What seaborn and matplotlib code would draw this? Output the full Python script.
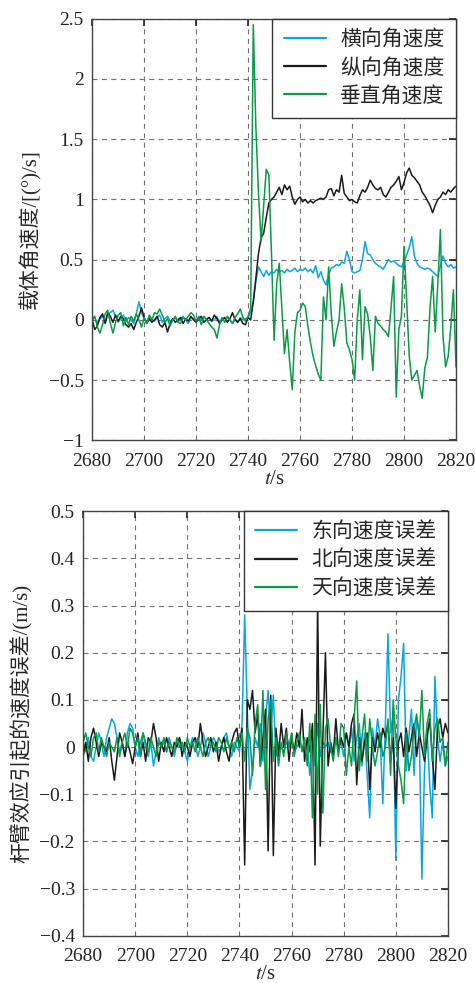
import numpy as np
import matplotlib
matplotlib.use("Agg")
import matplotlib.pyplot as plt
import seaborn as sns
from matplotlib.ticker import FuncFormatter

# time axis, 1 s sampling
t = np.arange(2680, 2821, 1)

# top panel: body angular rate [deg/s]
roll_rate = [
    0.00, 0.02, -0.03, 0.01, 0.03, -0.02, 0.04, 0.06, 0.08, 0.03,
    -0.02, 0.01, 0.04, -0.01, 0.02, 0.00, -0.03, 0.05, 0.15, 0.06,
    0.01, -0.02, 0.03, 0.00, -0.01, 0.02, 0.04, -0.02, 0.01, 0.03,
    -0.01, 0.00, 0.02, -0.02, 0.01, 0.03, 0.00, -0.03, 0.02, 0.01,
    -0.01, 0.03, 0.00, -0.02, 0.01, 0.02, -0.01, 0.00, 0.03, -0.02,
    0.01, -0.01, 0.02, 0.00, -0.03, 0.01, -0.02, 0.02, 0.00, 0.01,
    0.02, 0.06, 0.15, 0.32, 0.44, 0.40, 0.36, 0.41, 0.37, 0.40,
    0.39, 0.42, 0.40, 0.41, 0.39, 0.42, 0.40, 0.41, 0.43, 0.40,
    0.42, 0.41, 0.43, 0.40, 0.42, 0.39, 0.45, 0.35, 0.40, 0.33,
    0.29, 0.38, 0.43, 0.44, 0.46, 0.45, 0.48, 0.47, 0.57, 0.50,
    0.40, 0.39, 0.40, 0.41, 0.50, 0.65, 0.55, 0.54, 0.50, 0.47,
    0.45, 0.44, 0.42, 0.46, 0.50, 0.48, 0.49, 0.47, 0.45, 0.44,
    0.48, 0.54, 0.60, 0.69, 0.53, 0.47, 0.44, 0.43, 0.42, 0.43,
    0.42, 0.40, 0.38, 0.36, 0.45, 0.53, 0.47, 0.44, 0.46, 0.43,
    0.44,
]
pitch_rate = [
    0.00, -0.08, -0.05, 0.02, 0.05, -0.03, 0.06, 0.03, -0.02, 0.04,
    -0.01, 0.03, 0.01, -0.04, -0.06, -0.03, -0.08, -0.02, 0.03, 0.10,
    0.02, -0.03, 0.01, -0.02, 0.00, 0.03, -0.04, -0.06, -0.02, -0.10,
    -0.03, 0.01, -0.02, 0.00, 0.02, -0.03, 0.01, -0.01, 0.03, 0.00,
    -0.02, 0.01, 0.03, -0.02, 0.00, 0.02, -0.01, 0.04, 0.01, -0.03,
    0.00, 0.02, -0.02, 0.01, 0.06, 0.00, -0.02, 0.01, -0.03, -0.04,
    0.02, 0.00, 0.15, 0.35, 0.55, 0.68, 0.72, 0.85, 0.97, 1.00,
    1.02, 1.06, 1.10, 1.04, 1.12, 1.08, 1.11, 1.02, 0.96, 1.00,
    1.02, 0.98, 1.00, 0.97, 0.99, 0.97, 0.99, 1.00, 1.01, 1.00,
    1.02, 1.08, 1.09, 1.03, 1.08, 1.06, 1.20, 1.05, 1.02, 0.99,
    1.00, 0.98, 0.97, 1.03, 1.08, 1.06, 1.10, 1.16, 1.12, 1.09,
    1.08, 1.10, 1.04, 1.02, 1.06, 1.10, 1.12, 1.15, 1.19, 1.08,
    1.14, 1.22, 1.26, 1.20, 1.18, 1.15, 1.12, 1.06, 1.03, 0.99,
    0.95, 0.89, 0.95, 1.00, 1.02, 1.06, 1.04, 1.08, 1.06, 1.09,
    1.11,
]
yaw_rate = [
    0.00, 0.03, -0.06, -0.11, -0.04, 0.05, 0.08, -0.03, -0.11, -0.02,
    0.04, 0.06, -0.05, 0.02, -0.04, 0.03, -0.01, 0.05, 0.00, -0.06,
    0.02, -0.03, 0.04, 0.00, 0.06, 0.05, 0.09, 0.04, -0.02, 0.01,
    -0.05, 0.00, 0.03, -0.02, -0.03, 0.02, 0.00, 0.03, 0.06, 0.04,
    -0.01, 0.02, -0.04, 0.03, 0.00, -0.03, -0.06, -0.08, -0.15, -0.04,
    0.02, -0.02, 0.03, 0.00, -0.03, 0.02, 0.05, 0.09, 0.02, -0.01,
    0.03, 0.10, 2.45, 1.60, 1.05, 0.65, 0.95, 1.25, 1.20, 0.55,
    -0.17, 0.30, 0.47, 0.10, -0.28, -0.08, -0.35, -0.58, -0.10, 0.06,
    0.08, 0.14, 0.11, -0.05, -0.19, -0.30, -0.38, -0.45, -0.50, 0.19,
    0.00, 0.44, 0.05, -0.22, -0.10, 0.00, 0.30, 0.10, -0.19, -0.25,
    -0.33, -0.50, 0.00, 0.25, -0.33, 0.11, 0.05, -0.14, -0.42, 0.03,
    -0.03, -0.05, -0.08, -0.10, -0.14, 0.10, 0.36, -0.64, -0.08, 0.03,
    0.61, 0.17, -0.30, -0.50, -0.46, -0.42, -0.55, -0.65, -0.40, -0.31,
    0.10, 0.36, -0.10, 0.30, 0.75, -0.14, -0.39, -0.30, -0.06, 0.25,
    -0.39,
]

# bottom panel: lever-arm velocity error [m/s]
east_err = [
    0.01, -0.01, 0.02, -0.02, -0.03, 0.00, 0.03, 0.01, -0.02, 0.02,
    0.04, 0.06, 0.05, 0.02, -0.01, 0.01, -0.02, 0.03, 0.05, 0.04,
    0.00, -0.02, 0.01, 0.03, 0.00, -0.02, 0.01, -0.04, -0.01, 0.02,
    0.00, 0.01, -0.01, 0.02, 0.00, -0.02, 0.01, 0.02, 0.00, -0.01,
    -0.03, 0.00, 0.02, 0.01, -0.02, 0.00, 0.03, 0.01, -0.02, 0.00,
    0.02, 0.01, -0.01, 0.00, 0.02, 0.03, 0.00, -0.02, 0.01, 0.00,
    -0.01, 0.05, 0.28, 0.08, -0.09, -0.05, 0.02, 0.00, 0.05, -0.03,
    0.06, 0.12, 0.03, 0.11, -0.02, 0.01, 0.00, -0.01, 0.01, 0.00,
    0.02, -0.01, 0.00, 0.01, 0.00, -0.01, 0.01, -0.06, 0.02, -0.04,
    0.05, -0.02, 0.01, 0.00, 0.01, -0.01, 0.00, 0.02, 0.00, 0.01,
    -0.02, 0.03, 0.00, 0.04, -0.03, 0.02, 0.05, -0.04, 0.03, -0.06,
    -0.15, 0.04, 0.00, 0.06, 0.02, -0.12, 0.05, 0.24, 0.03, 0.07,
    -0.24, 0.10, 0.15, 0.22, -0.05, 0.02, 0.08, -0.06, 0.06, 0.03,
    -0.28, -0.05, 0.04, -0.08, -0.15, 0.15, 0.02, -0.03, 0.01, -0.04,
    -0.02,
]
north_err = [
    -0.02, 0.01, -0.03, 0.02, 0.04, 0.01, -0.02, 0.01, 0.00, -0.01,
    0.02, -0.03, -0.07, -0.02, 0.03, 0.01, -0.02, 0.01, -0.01, -0.035,
    0.00, 0.03, -0.02, 0.01, -0.03, 0.02, 0.01, 0.05, 0.02, -0.03,
    0.01, -0.01, 0.02, 0.00, -0.02, 0.01, 0.00, 0.02, -0.02, 0.01,
    0.00, -0.02, 0.01, 0.02, 0.00, 0.05, 0.01, -0.02, 0.00, 0.02,
    -0.01, 0.01, -0.03, 0.00, 0.02, -0.01, -0.03, 0.01, 0.03, 0.04,
    0.00, 0.04, -0.25, 0.10, 0.08, 0.12, 0.03, 0.07, -0.04, 0.02,
    0.08, -0.22, 0.11, -0.23, 0.04, -0.02, 0.05, 0.00, 0.04, -0.03,
    0.02, -0.01, 0.03, 0.00, 0.08, -0.03, 0.02, -0.01, 0.05, -0.25,
    0.31, -0.21, 0.02, 0.20, -0.04, 0.01, -0.02, 0.06, -0.01, 0.02,
    0.00, 0.03, 0.00, 0.05, 0.07, -0.08, 0.02, -0.03, 0.01, 0.03,
    -0.09, 0.02, -0.01, 0.03, 0.00, 0.04, 0.02, 0.05, -0.03, 0.02,
    -0.13, 0.01, 0.03, -0.02, 0.04, -0.01, 0.02, 0.05, -0.02, 0.03,
    0.00, -0.03, 0.02, 0.06, -0.02, -0.09, 0.04, 0.06, 0.02, 0.05,
    0.03,
]
up_err = [
    0.01, 0.03, 0.00, -0.02, 0.02, 0.03, -0.01, 0.02, 0.00, -0.02,
    0.01, 0.00, -0.01, 0.02, -0.02, 0.01, 0.03, 0.00, 0.04, 0.03,
    0.00, 0.02, -0.02, 0.03, 0.01, -0.01, 0.02, 0.00, -0.02, 0.01,
    0.00, 0.02, -0.01, 0.01, 0.00, -0.01, 0.02, 0.00, 0.01, -0.01,
    0.02, 0.00, 0.01, -0.01, 0.02, 0.00, -0.02, 0.01, 0.02, 0.00,
    0.01, -0.01, 0.02, 0.01, -0.01, 0.02, 0.00, 0.01, -0.01, 0.02,
    0.00, 0.03, -0.03, 0.04, 0.02, -0.06, 0.05, 0.09, -0.04, 0.12,
    -0.09, 0.06, 0.10, -0.03, 0.02, -0.04, 0.01, -0.02, 0.03, 0.00,
    0.03, -0.02, 0.01, 0.03, -0.01, 0.02, -0.04, 0.05, -0.15, 0.07,
    -0.10, 0.09, -0.14, 0.04, 0.06, 0.00, -0.03, 0.02, -0.02, 0.05,
    0.04, -0.06, 0.00, -0.04, 0.06, 0.14, -0.05, 0.02, 0.07, -0.03,
    0.06, 0.00, -0.04, -0.01, 0.03, -0.02, 0.00, 0.06, -0.06, 0.10,
    0.02, -0.04, -0.07, -0.12, 0.03, -0.05, -0.02, 0.04, 0.07, 0.02,
    0.12, -0.02, 0.05, 0.08, -0.03, 0.04, 0.06, 0.01, 0.02, -0.04,
    0.01,
]

top_labels = ["横向角速度", "纵向角速度", "垂直角速度"]
bottom_labels = ["东向速度误差", "北向速度误差", "天向速度误差"]
colors = ["#0aa5e6", "#1a1a1a", "#0a9a46"]

sns.set_style("white")
plt.rcParams["font.family"] = ["Liberation Serif", "Noto Sans CJK SC"]
plt.rcParams["mathtext.fontset"] = "stix"
plt.rcParams["axes.unicode_minus"] = True

fig = plt.figure(figsize=(4.75, 9.83), dpi=100)
ax1 = fig.add_axes([0.194, 0.552, 0.766, 0.429])
ax2 = fig.add_axes([0.175, 0.048, 0.768, 0.432])


def fmt(v, pos):
    if abs(v) < 1e-9:
        return "0"
    s = "%g" % round(v, 3)
    return s.replace("-", "\u2212")


def style_axes(ax, ylim, yticks, ylabel):
    ax.set_xlim(2680, 2820)
    ax.set_ylim(*ylim)
    ax.set_xticks(np.arange(2680, 2821, 20))
    ax.set_yticks(yticks)
    ax.yaxis.set_major_formatter(FuncFormatter(fmt))
    ax.grid(True, color="#707070", linestyle=(0, (4.5, 4)), linewidth=0.8)
    ax.tick_params(direction="in", top=True, right=True, length=5,
                   width=1.2, labelsize=14, colors="#222222", pad=6)
    ax.tick_params(axis="x", pad=9)
    for sp in ax.spines.values():
        sp.set_color("#444444")
        sp.set_linewidth(1.0)
    ax.set_xlabel("$t$/s", fontsize=15, labelpad=0)
    ax.set_ylabel(ylabel, fontsize=15, labelpad=5)


for vals, lab, c in zip([roll_rate, pitch_rate, yaw_rate], top_labels, colors):
    sns.lineplot(x=t, y=vals, ax=ax1, color=c, linewidth=1.1, label=lab)
for vals, lab, c in zip([east_err, north_err, up_err], bottom_labels, colors):
    sns.lineplot(x=t, y=vals, ax=ax2, color=c, linewidth=1.1, label=lab)

style_axes(ax1, (-1, 2.5), np.arange(-1, 2.51, 0.5), "载体角速度/[(°)/s]")
style_axes(ax2, (-0.4, 0.5), np.round(np.arange(-0.4, 0.51, 0.1), 2),
           "杆臂效应引起的速度误差/(m/s)")

for ax in (ax1, ax2):
    leg = ax.legend(loc="upper right", borderaxespad=0, fancybox=False,
                    framealpha=1, edgecolor="#333333", fontsize=15,
                    handlelength=2.0, handletextpad=0.7, borderpad=0.55,
                    labelspacing=0.4)
    leg.get_frame().set_linewidth(1.0)
    for line in leg.get_lines():
        line.set_linewidth(1.6)

fig.savefig("out.png", dpi=100)
